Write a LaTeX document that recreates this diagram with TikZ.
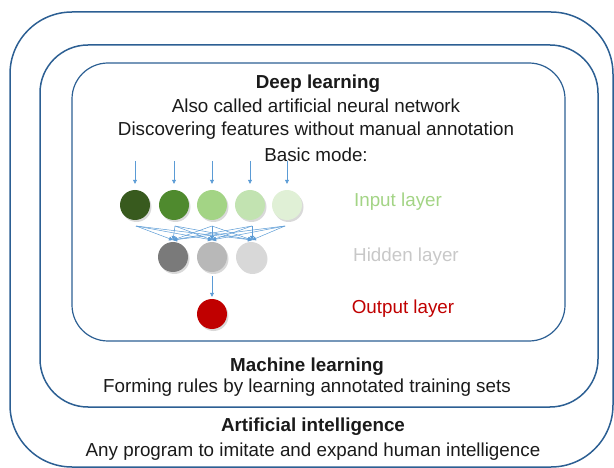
\documentclass[tikz,border=0pt]{standalone}
\usepackage{fontspec}
\setmainfont{Liberation Sans}
\usetikzlibrary{arrows.meta}
\definecolor{boxblue}{HTML}{2C5F93}
\definecolor{arrblue}{HTML}{5B9BD5}
\definecolor{g1}{HTML}{385A1E}
\definecolor{g2}{HTML}{4F8A2E}
\definecolor{g3}{HTML}{A3D485}
\definecolor{g4}{HTML}{C2E3B1}
\definecolor{g5}{HTML}{E0F0D6}
\definecolor{h1}{HTML}{7A7A7A}
\definecolor{h2}{HTML}{B8B8B8}
\definecolor{h3}{HTML}{D8D8D8}
\definecolor{outred}{HTML}{C00000}
\definecolor{inlab}{HTML}{A3D485}
\definecolor{hidlab}{HTML}{C8C8C8}
\definecolor{txt}{HTML}{1A1A1A}
\tikzset{
  frame/.style={draw=boxblue, line width=1.5pt},
  neuron/.style={circle, minimum size=30pt, inner sep=0pt},
  conn/.style={draw=arrblue, line width=0.6pt, -{Triangle[length=4pt,width=4pt]}},
  thinconn/.style={draw=arrblue, line width=0.5pt, -{Triangle[length=4pt,width=4pt]}},
  title/.style={font=\fontsize{18.8}{22}\selectfont\bfseries, text=txt},
  body/.style={font=\fontsize{18.8}{22}\selectfont, text=txt},
  lab/.style={font=\fontsize{18.8}{22}\selectfont},
}
\begin{document}
\begin{tikzpicture}[x=1pt,y=-1pt]
\useasboundingbox (0,0) rectangle (614,468);
% frames
\draw[frame, rounded corners=62pt] (10,12) rectangle (613,467);
\draw[frame, rounded corners=48pt] (40,45) rectangle (598,407);
\draw[frame, rounded corners=36pt, line width=1.2pt] (72,63) rectangle (565,341);
% texts
\node[title] (dl) at (318,84) {Deep learning};
\node[body] (dl1) at (316,106) {Also called artificial neural network};
\node[body] (dl2) at (316,131) {Discovering features without manual annotation};
\node[body] (dl3) at (316,155) {Basic mode:};
\node[title] (ml) at (307,367) {Machine learning};
\node[body] (ml1) at (307,388) {Forming rules by learning annotated training sets};
\node[title] (ai) at (313,427) {Artificial intelligence};
\node[body] (ai1) at (313,452) {Any program to imitate and expand human intelligence};
% labels
\node[lab, text=inlab] (linp) at (398,202) {Input layer};
\node[lab, text=hidlab] (lhid) at (406,257) {Hidden layer};
\node[lab, text=outred] (lout) at (403,309) {Output layer};
% shadows
\foreach \x/\y in {135/205,174/205,212/205,250/205,287/205,173/257,212/257,251/257,212/314}
  \fill[black!15] (\x+1.5,\y+2) circle (15pt);
% neurons
\node[neuron, fill=g1] (i1) at (135,205) {};
\node[neuron, fill=g2] (i2) at (174,205) {};
\node[neuron, fill=g3] (i3) at (212,205) {};
\node[neuron, fill=g4] (i4) at (250,205) {};
\node[neuron, fill=g5] (i5) at (287,205) {};
\node[neuron, fill=h1] (h1) at (173,257) {};
\node[neuron, fill=h2] (h2) at (212,257) {};
\node[neuron, fill=h3] (h3) at (251,257) {};
\node[neuron, fill=outred] (o1) at (212,314) {};
% input arrows
\foreach \i/\x in {1/135,2/174,3/212,4/250,5/287} {
  \coordinate (in\i) at (\x,161);
  \draw[conn] (in\i) -- ([yshift=6pt]i\i.north);
}
% input->hidden
\foreach \i/\x in {1/136,2/175,3/212,4/252,5/285}
  \coordinate (s\i) at (\x,226);
\foreach \j/\x in {1/173,2/212,3/252}
  \coordinate (t\j) at (\x,240);
\foreach \i in {1,...,5}
  \foreach \j in {1,2,3}
    \draw[thinconn] (s\i) -- (t\j);
% hidden->output
\draw[conn] ([yshift=-4pt]h2.south) -- ([yshift=2pt]o1.north);
\end{tikzpicture}
\end{document}
